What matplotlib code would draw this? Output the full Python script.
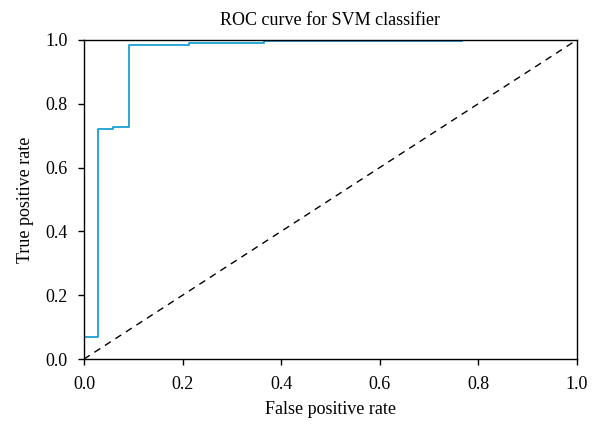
import matplotlib
matplotlib.use("Agg")
import matplotlib.pyplot as plt

# ROC curve points (step curve)
fpr = [0.0, 0.0, 0.028, 0.028, 0.059, 0.059, 0.091, 0.091, 0.213, 0.213, 0.365, 0.365, 0.768]
tpr = [0.0, 0.07, 0.07, 0.722, 0.722, 0.728, 0.728, 0.983, 0.983, 0.99, 0.99, 0.996, 0.996]

ticks = [0.0, 0.2, 0.4, 0.6, 0.8, 1.0]

plt.rcParams['font.family'] = ['Liberation Serif', 'DejaVu Serif']

fig = plt.figure(figsize=(6.04, 4.29), dpi=100)
ax = fig.add_axes([0.139, 0.163, 0.816, 0.744])

ax.plot([0, 1], [0, 1], color='black', linestyle=(0, (5, 4)), linewidth=1.0)
ax.plot(fpr, tpr, color='#1a9fd4', linewidth=1.3)

ax.set_xlim(0, 1)
ax.set_ylim(0, 1)
ax.set_xticks(ticks)
ax.set_yticks(ticks)
ax.set_xticklabels([f"{t:.1f}" for t in ticks])
ax.set_yticklabels([f"{t:.1f}" for t in ticks])
ax.tick_params(labelsize=13, direction='out', length=4, width=1, pad=8)
for s in ax.spines.values():
    s.set_linewidth(1.0)

ax.set_xlabel("False positive rate", fontsize=13, labelpad=6)
ax.set_ylabel("True positive rate", fontsize=13, labelpad=8)
ax.set_title("ROC curve for SVM classifier", fontsize=13, pad=11)

fig.savefig("out.png", dpi=100)
